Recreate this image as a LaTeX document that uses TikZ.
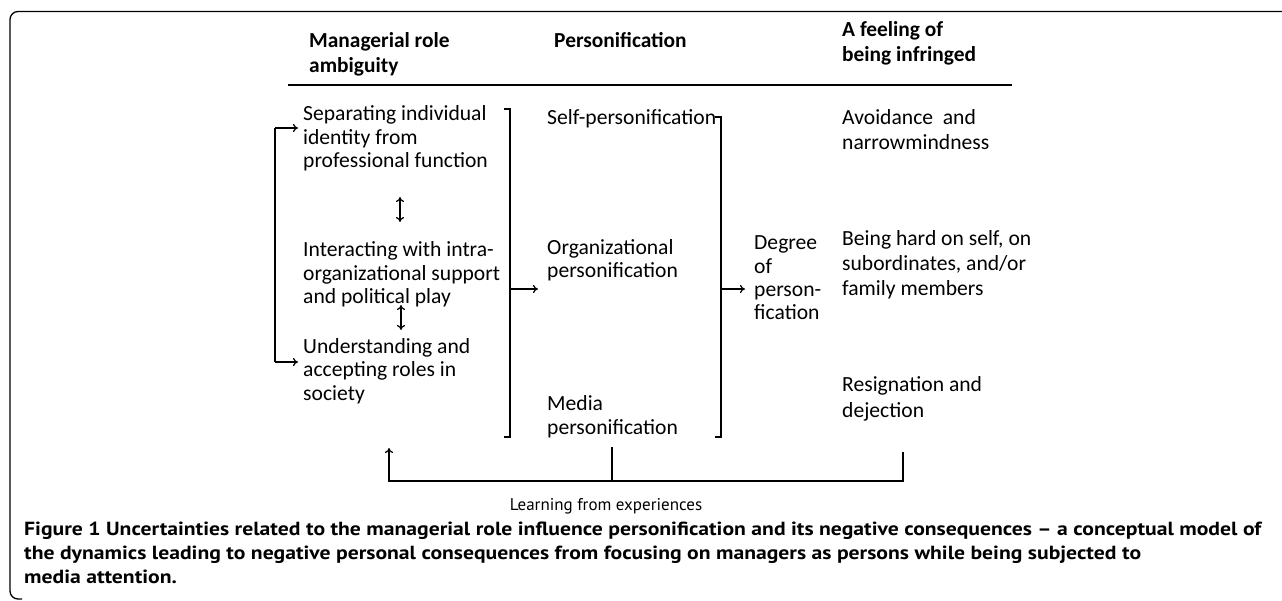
\documentclass[tikz,border=0pt]{standalone}
\usepackage{fontspec}
\setmainfont{Carlito}
\newfontfamily\capfont{PT Sans}[FakeStretch=1.14]
\newfontfamily\lblfont{PT Sans}
\usetikzlibrary{arrows.meta}
\begin{document}
\begin{tikzpicture}[x=1pt,y=-1pt,
  txt/.style={anchor=base west, inner sep=0pt, align=left, font=\fontsize{21.6}{23.5}\selectfont},
  txtw/.style={anchor=base west, inner sep=0pt, align=left, font=\fontsize{21.6}{25}\selectfont},
  hdr/.style={anchor=base west, inner sep=0pt, align=left, font=\bfseries\fontsize{21.4}{25}\selectfont},
  ln/.style={line width=1.2pt},
  arr/.style={line width=1.2pt, -{To[length=5pt,width=8pt]}},
  darr/.style={line width=1.2pt, {To[length=5pt,width=8pt]}-{To[length=5pt,width=8pt]}},
]
\useasboundingbox (0,0) rectangle (1282,601);
% frame
\draw[line width=1.3pt, rounded corners=8pt] (1282,11.5) -- (10,11.5) -- (10,599) -- (22,599);
% headers (anchor = baseline of last line)
\node[hdr] (h1) at (309,73) {Managerial role\\ambiguity};
\node[hdr] (h2) at (554,48) {Personification};
\node[hdr] (h3) at (842,62) {A feeling of\\being infringed};
\coordinate (ruleL) at (288,85);
\coordinate (ruleR) at (1012,85);
\draw[line width=2pt] (ruleL) -- (ruleR);
% column 1
\node[txt] (a1) at (303,168) {Separating individual\\identity from\\professional function};
\node[txt] (a2) at (303,304) {Interacting with intra-\\organizational support\\and political play};
\node[txt] (a3) at (303,400) {Understanding and\\accepting roles in\\society};
\coordinate (d1t) at (400,197);
\coordinate (d1b) at (400,222);
\coordinate (d2t) at (401,305);
\coordinate (d2b) at (401,330);
\draw[darr] (d1t) -- (d1b);
\draw[darr] (d2t) -- (d2b);
% left loop
\coordinate (lpT) at (275,128);
\coordinate (lpB) at (275,362);
\coordinate (lpTe) at (298,128);
\coordinate (lpBe) at (298,362);
\draw[ln] (lpT) -- (lpB);
\draw[arr] (lpT) -- (lpTe);
\draw[arr] (lpB) -- (lpBe);
% bracket 1
\coordinate (b1a) at (504,109);
\coordinate (b1b) at (510,109);
\coordinate (b1c) at (510,437);
\coordinate (b1d) at (504,437);
\coordinate (b1m) at (510,289);
\coordinate (b1e) at (538,289);
\draw[ln] (b1a) -- (b1b) -- (b1c) -- (b1d);
\draw[arr] (b1m) -- (b1e);
% column 2
\node[txt] (p1) at (547,125) {Self-personification};
\node[txt] (p2) at (547,278) {Organizational\\personification};
\node[txt] (p3) at (547,434) {Media\\personification};
% bracket 2
\coordinate (b2a) at (715,117);
\coordinate (b2b) at (721,117);
\coordinate (b2c) at (721,437);
\coordinate (b2d) at (715,437);
\coordinate (b2m) at (721,289);
\coordinate (b2e) at (745,289);
\draw[ln] (b2a) -- (b2b) -- (b2c) -- (b2d);
\draw[arr] (b2m) -- (b2e);
% column 3
\node[txt] (g1) at (754,320) {Degree\\of\\person-\\fication};
% column 4
\node[txtw] (f1) at (842,150) {Avoidance~ and\\narrowmindness};
\node[txtw] (f2) at (842,296) {Being hard on self, on\\subordinates, and/or\\family members};
\node[txtw] (f3) at (842,417) {Resignation and\\dejection};
% feedback loop
\coordinate (fbM) at (612,447);
\coordinate (fbMb) at (612,481);
\coordinate (fbR) at (903,452);
\coordinate (fbRb) at (903,481);
\coordinate (fbLb) at (389,481);
\coordinate (fbL) at (389,448);
\draw[ln] (fbM) -- (fbMb);
\draw[arr] (fbR) -- (fbRb) -- (fbLb) -- (fbL);
\node[anchor=base, inner sep=0pt, font=\lblfont\fontsize{17}{19}\selectfont] (learn) at (606,510) {Learning from experiences};
% caption
\node[anchor=base west, inner sep=0pt, align=left, font=\capfont\bfseries\fontsize{19}{24}\selectfont] (cap) at (24,583)
{Figure 1 Uncertainties related to the managerial role influence personification and its negative consequences – a conceptual model of\\
the dynamics leading to negative personal consequences from focusing on managers as persons while being subjected to\\
media attention.};
\end{tikzpicture}
\end{document}
